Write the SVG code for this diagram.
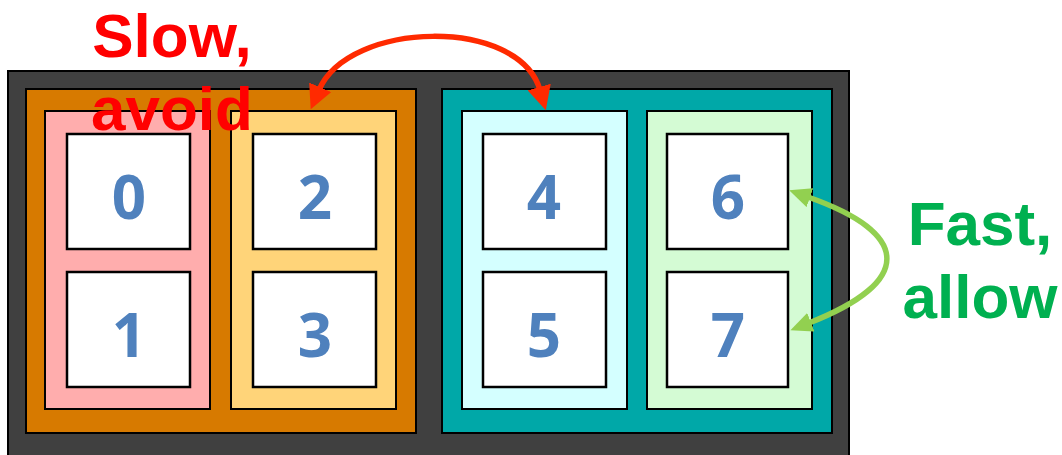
<svg xmlns="http://www.w3.org/2000/svg" width="1062" height="455" viewBox="0 0 1062 455">
<style>
.bx{stroke:#000;stroke-width:2}
.cell{fill:#fff;stroke:#000;stroke-width:2.5}
.dg{font-family:"Open Sans","Liberation Sans",sans-serif;font-weight:bold;font-size:60px;fill:#4F81BD;text-anchor:middle}
.lbl{font-family:"Liberation Sans",Arial,sans-serif;font-weight:bold;font-size:62px;text-anchor:middle}
</style>
<defs>
<marker id="ahR" markerUnits="userSpaceOnUse" markerWidth="26" markerHeight="24" refX="3" refY="12" orient="auto-start-reverse" viewBox="0 0 26 24">
<path d="M0,0 L24,12 L0,24 z" fill="#FF2A00"/>
</marker>
<marker id="ahG" markerUnits="userSpaceOnUse" markerWidth="24" markerHeight="20" refX="2" refY="10" orient="auto-start-reverse" viewBox="0 0 24 20">
<path d="M0,0 L22,10 L0,20 z" fill="#92D050"/>
</marker>
</defs>
<rect width="1062" height="455" fill="#fff"/>
<g id="chassis"><rect class="bx" x="8" y="71" width="841" height="400" fill="#404040"/></g>
<g id="socket-left"><rect class="bx" x="26" y="89" width="390" height="344" fill="#D77A00"/></g>
<g id="socket-right"><rect class="bx" x="442" y="89" width="390" height="344" fill="#00A8A8"/></g>
<g id="group-01"><rect class="bx" x="45" y="111" width="165" height="298" fill="#FFADAD"/></g>
<g id="group-23"><rect class="bx" x="231" y="111" width="165" height="298" fill="#FFD479"/></g>
<g id="group-45"><rect class="bx" x="462" y="111" width="165" height="298" fill="#D4FFFF"/></g>
<g id="group-67"><rect class="bx" x="647" y="111" width="165" height="298" fill="#D4FBD4"/></g>
<g id="node-0"><rect class="cell" x="67" y="134" width="123" height="115"/><text class="dg" x="129" y="219">0</text></g>
<g id="node-1"><rect class="cell" x="67" y="272" width="123" height="115"/><text class="dg" x="129" y="357">1</text></g>
<g id="node-2"><rect class="cell" x="253" y="134" width="123" height="115"/><text class="dg" x="315" y="219">2</text></g>
<g id="node-3"><rect class="cell" x="253" y="272" width="123" height="115"/><text class="dg" x="315" y="357">3</text></g>
<g id="node-4"><rect class="cell" x="483" y="134" width="123" height="115"/><text class="dg" x="544" y="219">4</text></g>
<g id="node-5"><rect class="cell" x="483" y="272" width="123" height="115"/><text class="dg" x="544" y="357">5</text></g>
<g id="node-6"><rect class="cell" x="667" y="134" width="121" height="115"/><text class="dg" x="728" y="219">6</text></g>
<g id="node-7"><rect class="cell" x="667" y="272" width="121" height="115"/><text class="dg" x="728" y="357">7</text></g>
<g id="connectors" fill="none">
<path d="M319,90 C349,20 519,17 540,90" stroke="#FF2A00" stroke-width="5.5" marker-start="url(#ahR)" marker-end="url(#ahR)"/>
<path d="M808,197 C913,234 913,282 809,323" stroke="#92D050" stroke-width="5.5" marker-start="url(#ahG)" marker-end="url(#ahG)"/>
</g>
<g id="label-slow"><text class="lbl" fill="#FF0000"><tspan x="172" y="57">Slow,</tspan><tspan x="172" y="130">avoid</tspan></text></g>
<g id="label-fast"><text class="lbl" fill="#00B050"><tspan x="980" y="245">Fast,</tspan><tspan x="980" y="318">allow</tspan></text></g>
</svg>
